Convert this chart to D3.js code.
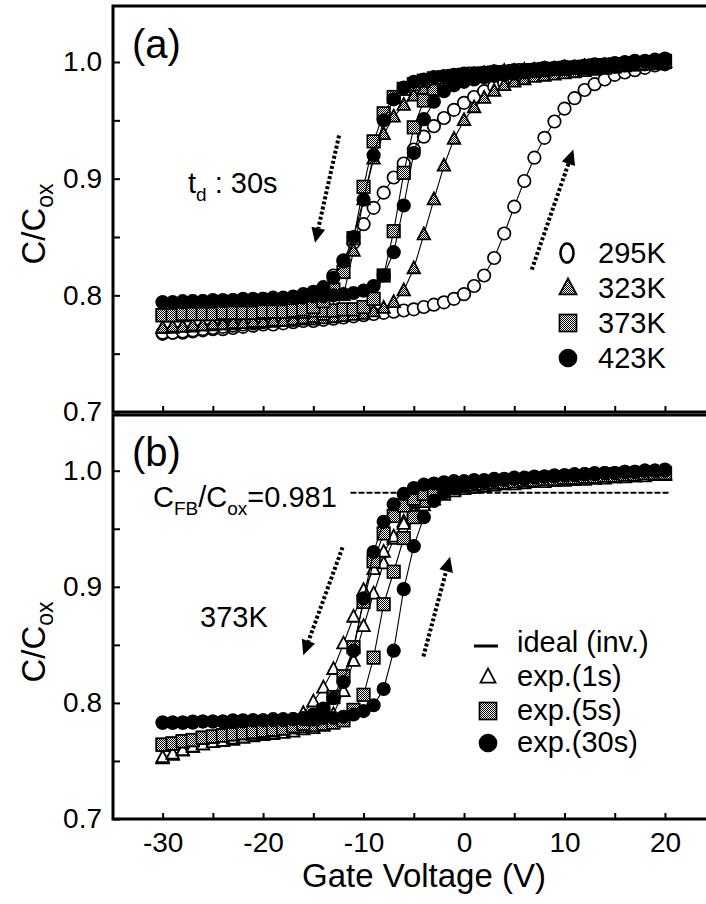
<!DOCTYPE html>
<html>
<head>
<meta charset="utf-8">
<script src="https://cdn.jsdelivr.net/npm/d3@7"></script>
<style>
body{margin:0;background:#fff}
svg{display:block}
text{font-family:"Liberation Sans",Arial,sans-serif;fill:#000}
</style>
</head>
<body>
<div id="chart"></div>
<script>
// gate voltage grid (V), one point per volt
const gateV = [-30,-29,-28,-27,-26,-25,-24,-23,-22,-21,-20,-19,-18,-17,-16,-15,-14,-13,-12,-11,
  -10,-9,-8,-7,-6,-5,-4,-3,-2,-1,0,1,2,3,4,5,6,7,8,9,10,11,12,13,14,15,16,17,18,19,20]

// panel (a): td = 30s, four temperatures, up = forward sweep, down = reverse sweep
const a295Up = [0.767,0.768,0.768,0.769,0.770,0.771,0.771,0.772,0.773,0.774,
  0.775,0.775,0.776,0.777,0.778,0.778,0.779,0.780,0.781,0.782,
  0.783,0.784,0.785,0.786,0.787,0.788,0.790,0.792,0.794,0.797,
  0.801,0.808,0.817,0.832,0.853,0.876,0.898,0.918,0.935,0.949,
  0.960,0.969,0.976,0.981,0.985,0.989,0.991,0.993,0.995,0.997,0.998]
const a295Down = [0.768,0.768,0.769,0.770,0.771,0.772,0.773,0.774,0.775,0.776,
  0.777,0.779,0.781,0.784,0.789,0.796,0.805,0.817,0.830,0.845,
  0.861,0.875,0.888,0.901,0.913,0.925,0.936,0.945,0.952,0.959,
  0.965,0.970,0.975,0.979,0.982,0.985,0.987,0.989,0.990,0.991,
  0.992,0.993,0.994,0.995,0.996,0.996,0.997,0.998,0.998,0.999,0.999]
const a323Up = [0.772,0.772,0.773,0.773,0.774,0.774,0.775,0.775,0.776,0.776,
  0.777,0.777,0.778,0.778,0.779,0.779,0.780,0.781,0.782,0.783,
  0.784,0.786,0.789,0.794,0.804,0.823,0.852,0.882,0.911,0.934,
  0.950,0.961,0.969,0.975,0.980,0.983,0.985,0.987,0.988,0.989,
  0.990,0.991,0.992,0.993,0.994,0.995,0.996,0.997,0.998,0.999,1.000]
const a323Down = [0.772,0.773,0.773,0.774,0.774,0.775,0.775,0.776,0.776,0.777,
  0.777,0.778,0.778,0.779,0.780,0.781,0.783,0.787,0.800,0.838,
  0.882,0.917,0.938,0.953,0.963,0.971,0.977,0.981,0.984,0.986,
  0.988,0.989,0.990,0.991,0.992,0.992,0.993,0.993,0.994,0.994,
  0.995,0.995,0.996,0.996,0.997,0.997,0.998,0.998,0.999,0.999,1.000]
const a373Up = [0.783,0.783,0.783,0.784,0.784,0.784,0.784,0.785,0.785,0.785,
  0.785,0.786,0.786,0.786,0.786,0.787,0.787,0.787,0.788,0.788,
  0.790,0.797,0.817,0.855,0.905,0.944,0.967,0.977,0.982,0.985,
  0.987,0.988,0.989,0.990,0.991,0.992,0.992,0.993,0.993,0.994,
  0.994,0.995,0.995,0.996,0.997,0.997,0.998,0.998,0.999,0.999,1.000]
const a373Down = [0.783,0.783,0.784,0.784,0.784,0.784,0.785,0.785,0.785,0.785,
  0.786,0.786,0.786,0.787,0.788,0.790,0.795,0.805,0.820,0.849,
  0.893,0.932,0.956,0.970,0.977,0.981,0.984,0.986,0.987,0.988,
  0.989,0.990,0.990,0.991,0.991,0.992,0.993,0.993,0.994,0.994,
  0.995,0.995,0.996,0.997,0.997,0.998,0.998,0.999,0.999,1.000,1.001]
const a423Up = [0.794,0.794,0.794,0.795,0.795,0.795,0.795,0.796,0.796,0.796,
  0.797,0.797,0.797,0.798,0.798,0.799,0.799,0.800,0.801,0.802,
  0.804,0.808,0.817,0.837,0.877,0.922,0.951,0.966,0.975,0.980,
  0.983,0.985,0.987,0.988,0.989,0.990,0.991,0.992,0.993,0.994,
  0.994,0.995,0.996,0.996,0.997,0.998,0.998,0.999,1.000,1.000,1.001]
const a423Down = [0.794,0.794,0.795,0.795,0.795,0.796,0.796,0.796,0.797,0.797,
  0.797,0.798,0.798,0.799,0.801,0.803,0.807,0.815,0.829,0.850,
  0.882,0.920,0.950,0.968,0.978,0.983,0.985,0.987,0.988,0.989,
  0.990,0.990,0.991,0.992,0.992,0.993,0.993,0.994,0.995,0.995,
  0.996,0.996,0.997,0.998,0.998,0.999,1.000,1.001,1.001,1.002,1.003]

// panel (b): 373K, three delay times
const b1sUp = [0.752,0.755,0.759,0.762,0.764,0.766,0.767,0.768,0.770,0.771,
  0.772,0.773,0.774,0.775,0.777,0.778,0.780,0.790,0.810,0.836,
  0.866,0.894,0.920,0.941,0.956,0.966,0.974,0.978,0.981,0.983,
  0.985,0.986,0.987,0.988,0.989,0.989,0.990,0.990,0.991,0.991,
  0.992,0.992,0.993,0.993,0.994,0.994,0.995,0.995,0.996,0.996,0.997]
const b1sDown = [0.753,0.756,0.759,0.762,0.764,0.766,0.767,0.769,0.770,0.772,
  0.773,0.775,0.777,0.781,0.791,0.801,0.813,0.829,0.851,0.874,
  0.897,0.915,0.930,0.943,0.954,0.963,0.970,0.975,0.979,0.982,
  0.984,0.985,0.986,0.987,0.988,0.988,0.989,0.990,0.990,0.991,
  0.991,0.992,0.992,0.993,0.993,0.994,0.994,0.995,0.995,0.996,0.996]
const b5sUp = [0.764,0.765,0.767,0.768,0.770,0.771,0.772,0.773,0.774,0.775,
  0.776,0.777,0.778,0.779,0.780,0.781,0.782,0.783,0.785,0.794,
  0.807,0.839,0.885,0.913,0.942,0.960,0.974,0.981,0.985,0.987,
  0.988,0.989,0.990,0.990,0.991,0.992,0.992,0.993,0.993,0.994,
  0.994,0.995,0.995,0.996,0.996,0.997,0.997,0.997,0.998,0.998,0.998]
const b5sDown = [0.764,0.765,0.767,0.768,0.770,0.771,0.772,0.773,0.774,0.775,
  0.776,0.777,0.778,0.780,0.782,0.786,0.793,0.805,0.823,0.848,
  0.887,0.922,0.946,0.961,0.970,0.976,0.980,0.983,0.985,0.986,
  0.987,0.988,0.989,0.990,0.990,0.991,0.992,0.992,0.993,0.993,
  0.994,0.994,0.995,0.995,0.996,0.996,0.997,0.997,0.998,0.998,0.998]
const b30sUp = [0.783,0.783,0.783,0.783,0.784,0.784,0.784,0.784,0.784,0.785,
  0.785,0.785,0.785,0.786,0.786,0.786,0.787,0.787,0.788,0.790,
  0.793,0.798,0.812,0.845,0.898,0.935,0.960,0.974,0.981,0.985,
  0.987,0.989,0.990,0.991,0.992,0.993,0.993,0.994,0.995,0.995,
  0.996,0.996,0.997,0.997,0.998,0.998,0.999,0.999,1.000,1.000,1.000]
const b30sDown = [0.783,0.783,0.783,0.784,0.784,0.784,0.784,0.785,0.785,0.785,
  0.785,0.786,0.786,0.786,0.787,0.790,0.795,0.804,0.818,0.845,
  0.890,0.930,0.956,0.971,0.980,0.985,0.988,0.989,0.990,0.991,
  0.991,0.992,0.992,0.993,0.993,0.994,0.994,0.995,0.995,0.996,
  0.996,0.997,0.997,0.998,0.998,0.998,0.999,0.999,1.000,1.000,1.001]

// ideal inversion level C_FB/C_ox
const idealV = [-11.3, 20.5]
const idealC = [0.981, 0.981]

const legendA = ["295K","323K","373K","423K"]
const legendB = ["ideal (inv.)","exp.(1s)","exp.(5s)","exp.(30s)"]
const majorY = [0.7,0.8,0.9,1.0]
const minorY = [0.75,0.85,0.95]
const majorX = [-30,-20,-10,0,10,20]
const minorX = [-25,-15,-5,5,15]

const W = 706, H = 904
const svg = d3.select("#chart").append("svg").attr("width",W).attr("height",H)

// dithered grey like the scanned markers
const pat = svg.append("defs").append("pattern").attr("id","hatch")
  .attr("width",2).attr("height",2).attr("patternUnits","userSpaceOnUse")
pat.append("rect").attr("width",2).attr("height",2).attr("fill","#fff")
pat.append("rect").attr("width",1).attr("height",1).attr("fill","#000")
pat.append("rect").attr("x",1).attr("y",1).attr("width",1).attr("height",1).attr("fill","#000")

const x = d3.scaleLinear().domain([-35,25]).range([112.4,715.2])
const yA = d3.scaleLinear().domain([0.7,1.048]).range([412,6])
const yB = d3.scaleLinear().domain([0.7,1.048]).range([819,415])

function marker(g, shape, fill, cx, cy, s){
  if(shape=="circle"){
    g.append("circle").attr("cx",cx).attr("cy",cy).attr("r",s/2)
      .attr("fill",fill).attr("stroke","#000").attr("stroke-width",1.7)
  } else if(shape=="square"){
    g.append("rect").attr("x",cx-s/2).attr("y",cy-s/2).attr("width",s).attr("height",s)
      .attr("fill",fill).attr("stroke","#000").attr("stroke-width",1.7)
  } else {
    let h = s*0.95
    g.append("path").attr("d","M"+cx+","+(cy-h*0.6)+"L"+(cx+s/2)+","+(cy+h*0.4)+"L"+(cx-s/2)+","+(cy+h*0.4)+"Z")
      .attr("fill",fill).attr("stroke","#000").attr("stroke-width",1.8).attr("stroke-linejoin","miter")
  }
}

function drawSeries(y, list){
  let g = svg.append("g")
  list.forEach(function(s){
    [s.up, s.down].forEach(function(vals){
      let line = d3.line().x((d,i)=>x(gateV[i])).y(d=>y(d))
      g.append("path").attr("d",line(vals)).attr("fill","none").attr("stroke","#000").attr("stroke-width",1.1)
      vals.forEach(function(c,i){ marker(g, s.shape, s.fill, x(gateV[i]), y(c), 12.5) })
    })
  })
}

function drawAxes(y, top, bottom, labelX){
  let left = svg.append("g").attr("transform","translate(113,0)")
  left.call(d3.axisLeft(y).tickValues(majorY).tickSize(-7).tickPadding(11).tickFormat(d3.format(".1f")))
  left.append("g").call(d3.axisLeft(y).tickValues(minorY).tickSize(-7).tickFormat(""))
  let bot = svg.append("g").attr("transform","translate(0,"+bottom+")")
  bot.call(d3.axisBottom(x).tickValues(majorX).tickSize(-6).tickPadding(13).tickFormat(labelX ? (d => String(d)) : ""))
  bot.append("g").call(d3.axisBottom(x).tickValues(minorX).tickSize(-6).tickFormat(""))
  svg.selectAll(".domain").remove()
  svg.selectAll(".tick line").attr("stroke","#000").attr("stroke-width",2)
  svg.selectAll(".tick text").style("font-size","28px").style("font-family","'Liberation Sans',Arial,sans-serif")
  svg.append("rect").attr("x",113).attr("y",top).attr("width",620).attr("height",bottom-top)
    .attr("fill","none").attr("stroke","#000").attr("stroke-width",3)
}

function yTitle(cy){
  let t = svg.append("text").attr("transform","translate(45,"+cy+") rotate(-90)")
    .attr("text-anchor","middle").style("font-size","33px")
  t.append("tspan").text("C/C")
  t.append("tspan").attr("dy",8).style("font-size","23px").text("ox")
}

function dottedArrow(y, v0, c0, v1, c1){
  let x0 = x(v0), y0 = y(c0), x1 = x(v1), y1 = y(c1)
  let ang = Math.atan2(y1-y0, x1-x0)
  let L = 15, Wd = 7
  let bx = x1 - L*Math.cos(ang), by = y1 - L*Math.sin(ang)
  svg.append("line").attr("x1",x0).attr("y1",y0).attr("x2",bx).attr("y2",by)
    .attr("stroke","#000").attr("stroke-width",4).attr("stroke-dasharray","3,2.2")
  let px = -Math.sin(ang)*Wd, py = Math.cos(ang)*Wd
  svg.append("path").attr("d","M"+x1+","+y1+"L"+(bx+px)+","+(by+py)+"L"+(bx-px)+","+(by-py)+"Z").attr("fill","#000")
}

// panel (a)
drawSeries(yA, [
  {up:a295Up, down:a295Down, shape:"circle", fill:"#fff"},
  {up:a323Up, down:a323Down, shape:"triangle", fill:"url(#hatch)"},
  {up:a373Up, down:a373Down, shape:"square", fill:"url(#hatch)"},
  {up:a423Up, down:a423Down, shape:"circle", fill:"#000"}
])
drawAxes(yA, 6, 412, false)

// panel (b)
svg.append("path").attr("d", d3.line().x((d,i)=>x(idealV[i])).y(d=>yB(d))(idealC))
  .attr("fill","none").attr("stroke","#000").attr("stroke-width",2).attr("stroke-dasharray","6,2")
drawSeries(yB, [
  {up:b1sUp, down:b1sDown, shape:"triangle", fill:"#fff"},
  {up:b5sUp, down:b5sDown, shape:"square", fill:"url(#hatch)"},
  {up:b30sUp, down:b30sDown, shape:"circle", fill:"#000"}
])
drawAxes(yB, 415, 819, true)

yTitle(224)
yTitle(642)
svg.append("text").attr("x",424).attr("y",887).attr("text-anchor","middle").style("font-size","33px").text("Gate Voltage (V)")

// labels and annotations
svg.append("text").attr("x",132).attr("y",58).style("font-size","40px").text("(a)")
svg.append("text").attr("x",132).attr("y",466).style("font-size","40px").text("(b)")
let td = svg.append("text").attr("x",188).attr("y",193).style("font-size","29px")
td.append("tspan").text("t")
td.append("tspan").attr("dy",8).style("font-size","19px").text("d")
td.append("tspan").attr("dy",-8).text(" : 30s")
let cfb = svg.append("text").attr("x",153).attr("y",507).style("font-size","29px")
cfb.append("tspan").text("C")
cfb.append("tspan").attr("dy",8).style("font-size","19px").text("FB")
cfb.append("tspan").attr("dy",-8).text("/C")
cfb.append("tspan").attr("dy",8).style("font-size","19px").text("ox")
cfb.append("tspan").attr("dy",-8).text("=0.981")
svg.append("text").attr("x",200).attr("y",627).style("font-size","29px").text("373K")

dottedArrow(yA, -12.44, 0.937, -14.83, 0.845)
dottedArrow(yA, 6.74, 0.822, 10.88, 0.925)
dottedArrow(yB, -12.09, 0.934, -16.0, 0.841)
dottedArrow(yB, -4.05, 0.840, -1.39, 0.926)

// legend (a)
let legA = svg.append("g")
let shapesA = [["circle","#fff"],["triangle","url(#hatch)"],["square","url(#hatch)"],["circle","#000"]]
legendA.forEach(function(name,i){
  let by = 263 + i*35
  if(i==0){
    legA.append("ellipse").attr("cx",567).attr("cy",by-10).attr("rx",6.5).attr("ry",9.5)
      .attr("fill","#fff").attr("stroke","#000").attr("stroke-width",2.6)
  } else {
    marker(legA, shapesA[i][0], shapesA[i][1], 568, by-10, 17)
  }
  legA.append("text").attr("x",598).attr("y",by).style("font-size","29px").text(name)
})

// legend (b)
let legB = svg.append("g")
let shapesB = [null,["triangle","#fff"],["square","url(#hatch)"],["circle","#000"]]
let rowsB = [652, 686, 720, 752]
legendB.forEach(function(name,i){
  let by = rowsB[i]
  if(i==0){
    legB.append("line").attr("x1",474).attr("x2",498).attr("y1",by-6).attr("y2",by-6)
      .attr("stroke","#000").attr("stroke-width",3)
  } else {
    marker(legB, shapesB[i][0], shapesB[i][1], 488, by-9, i==1 ? 15 : 17)
  }
  legB.append("text").attr("x",517).attr("y",by).style("font-size","29px").text(name)
})
</script>
</body>
</html>
